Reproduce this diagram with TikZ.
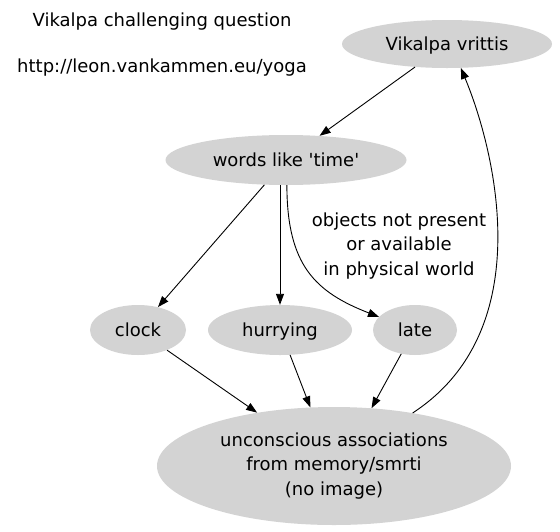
\documentclass[tikz,border=0pt]{standalone}
\usepackage{fontspec}
\setmainfont{DejaVu Sans}
\usetikzlibrary{shapes.geometric,arrows.meta}
\definecolor{nodegray}{RGB}{211,211,211}
\begin{document}
\begin{tikzpicture}[x=1pt,y=-1pt,
  every node/.style={font=\fontsize{18}{24.5}\selectfont, align=center},
  blob/.style={ellipse, fill=nodegray, draw=none, inner sep=0pt},
  oneline/.style={text height=13pt, text depth=0pt},
  edge/.style={line width=0.9pt, -{Triangle[length=11pt,width=8pt]}}]
\useasboundingbox (0,0) rectangle (560,531);
\node[oneline] (title) at (162,20) {Vikalpa challenging question};
\node[oneline] (url) at (162,66) {http://leon.vankammen.eu/yoga};
\node[blob, oneline, minimum width=210pt, minimum height=48pt] (v) at (447,44) {Vikalpa vrittis};
\node[blob, oneline, minimum width=241pt, minimum height=50pt] (w) at (286,160) {words like \textquotesingle time\textquotesingle};
\node[blob, oneline, minimum width=96pt, minimum height=50pt] (c) at (138,330) {clock};
\node[blob, oneline, minimum width=144pt, minimum height=50pt] (h) at (280,330) {hurrying};
\node[blob, oneline, minimum width=84pt, minimum height=50pt] (l) at (415,330) {late};
\node[blob, minimum width=354pt, minimum height=118pt] (u) at (334,466) {unconscious associations\\from memory/smrti\\(no image)};
\node (lab) at (399,246) {objects not present\\or available\\in physical world};
\draw[edge] (v) -- (w);
\draw[edge] (w) -- (c);
\draw[edge] (w.south -| h.north) -- (h.north);
\draw[edge] (w.-88) .. controls (287,265) and (315,292) .. (l.160);
\draw[edge] (c) -- (u);
\draw[edge] (h.-68) -- (u.112);
\draw[edge] (l.-120) -- (u.57);
\draw[edge] (u.34) .. controls (540,330) and (495,150) .. (v.-60);
\end{tikzpicture}
\end{document}
